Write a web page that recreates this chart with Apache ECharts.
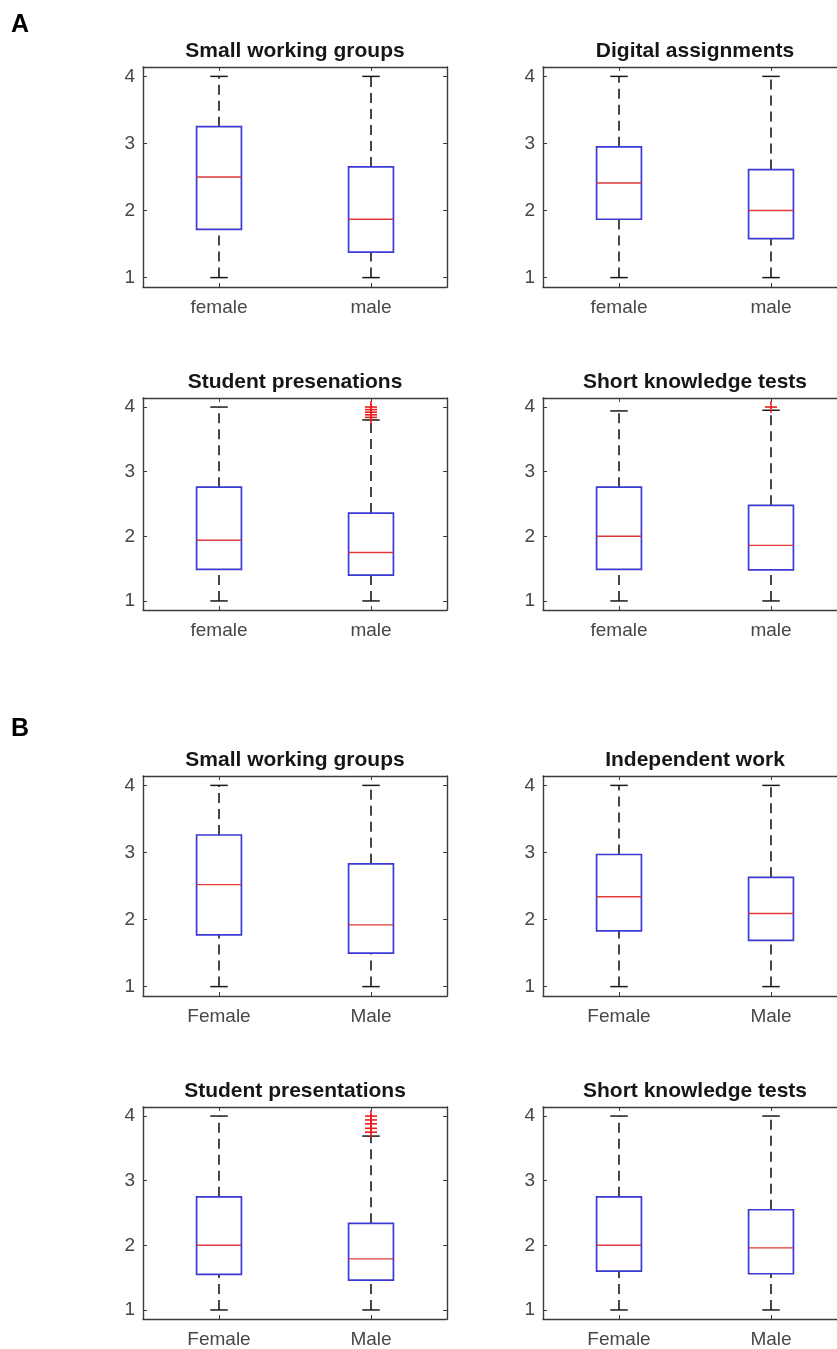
<!DOCTYPE html>
<html>
<head>
<meta charset="utf-8">
<script src="https://cdn.jsdelivr.net/npm/echarts@6/dist/echarts.min.js"></script>
<style>
html,body{margin:0;padding:0;background:#fff;overflow:hidden;width:837px;height:1349px;}
#chart{width:900px;height:1349px;}
</style>
</head>
<body>
<div id="chart"></div>
<script>
// ---------- data ----------
const groupLabelsA = ['female', 'male'];
const groupLabelsB = ['Female', 'Male'];
const panelTitles = ['Small working groups', 'Digital assignments', 'Student presenations', 'Short knowledge tests',
                     'Small working groups', 'Independent work', 'Student presentations', 'Short knowledge tests'];
const panelLetters = ['A', 'B'];
const yTickValues = [1, 2, 3, 4];
// [lower whisker, Q1, median, Q3, upper whisker] for [female, male]
const statsA1 = [[1, 1.72, 2.50, 3.25, 4], [1, 1.38, 1.87, 2.65, 4]];
const statsA2 = [[1, 1.87, 2.41, 2.95, 4], [1, 1.58, 2.00, 2.61, 4]];
const statsA3 = [[1, 1.49, 1.94, 2.76, 4], [1, 1.40, 1.75, 2.36, 3.80]];
const statsA4 = [[1, 1.49, 2.00, 2.76, 3.94], [1, 1.48, 1.86, 2.48, 3.95]];
const statsB1 = [[1, 1.77, 2.52, 3.26, 4], [1, 1.50, 1.92, 2.83, 4]];
const statsB2 = [[1, 1.83, 2.34, 2.97, 4], [1, 1.69, 2.09, 2.63, 4]];
const statsB3 = [[1, 1.55, 2.00, 2.75, 4], [1, 1.46, 1.79, 2.34, 3.69]];
const statsB4 = [[1, 1.60, 2.00, 2.75, 4], [1, 1.56, 1.96, 2.55, 4]];
// outliers: [group index, value]
const outliersA3 = [[1, 4.00], [1, 3.96], [1, 3.92], [1, 3.88], [1, 3.84]];
const outliersA4 = [[1, 4.00]];
const outliersB3 = [[1, 4.00], [1, 3.94], [1, 3.88], [1, 3.81], [1, 3.75]];

const panelStats = [statsA1, statsA2, statsA3, statsA4, statsB1, statsB2, statsB3, statsB4];
const panelOutliers = [[], [], outliersA3, outliersA4, [], [], outliersB3, []];

// ---------- layout ----------
const FONT = 'Liberation Sans, Arial, Helvetica, sans-serif';
const colLeft = [143, 543];
const rowTop = [67, 398, 776, 1107];
const rowHeight = [220, 212, 220, 212];
const plotWidth = 304;
const axisColor = '#3c3c3c';
const labelColor = '#474747';

const grids = [], xAxes = [], yAxes = [], series = [], graphics = [];

for (let p = 0; p < 8; p++) {
  const r = Math.floor(p / 2), c = p % 2;
  const left = colLeft[c], top = rowTop[r], h = rowHeight[r];
  const cats = p < 4 ? groupLabelsA : groupLabelsB;
  grids.push({left: left, top: top, width: plotWidth, height: h, containLabel: false});
  const xi = xAxes.length, yi = yAxes.length;
  xAxes.push({
    type: 'category', gridIndex: p, data: cats, position: 'bottom', boundaryGap: true,
    axisLine: {show: true, lineStyle: {color: axisColor, width: 1.4}},
    axisTick: {show: true, inside: true, alignWithLabel: true, length: 4, lineStyle: {color: axisColor}},
    axisLabel: {color: labelColor, fontSize: 19, fontFamily: FONT, margin: 11},
    splitLine: {show: false}
  });
  xAxes.push({
    type: 'category', gridIndex: p, data: cats, position: 'top', boundaryGap: true,
    axisLine: {show: true, lineStyle: {color: axisColor, width: 1.4}},
    axisTick: {show: true, inside: true, alignWithLabel: true, length: 4, lineStyle: {color: axisColor}},
    axisLabel: {show: false}, splitLine: {show: false}
  });
  yAxes.push({
    type: 'value', gridIndex: p, min: 0.86, max: 4.14, position: 'left',
    axisLine: {show: true, onZero: false, lineStyle: {color: axisColor, width: 1.4}},
    axisTick: {show: true, inside: true, length: 4, customValues: yTickValues, lineStyle: {color: axisColor}},
    axisLabel: {color: labelColor, fontSize: 19, fontFamily: FONT, margin: 8, customValues: yTickValues},
    splitLine: {show: false}
  });
  yAxes.push({
    type: 'value', gridIndex: p, min: 0.86, max: 4.14, position: 'right',
    axisLine: {show: true, onZero: false, lineStyle: {color: axisColor, width: 1.4}},
    axisTick: {show: true, inside: true, length: 4, customValues: yTickValues, lineStyle: {color: axisColor}},
    axisLabel: {show: false}, splitLine: {show: false}
  });

  const boxData = panelStats[p].map((s, i) => [i].concat(s));
  series.push({
    type: 'custom', xAxisIndex: xi, yAxisIndex: yi, data: boxData,
    encode: {x: 0, y: [1, 2, 3, 4, 5]}, silent: true,
    renderItem: function (params, api) {
      const x = api.value(0);
      const pMin = api.coord([x, api.value(1)]);
      const pQ1 = api.coord([x, api.value(2)]);
      const pMed = api.coord([x, api.value(3)]);
      const pQ3 = api.coord([x, api.value(4)]);
      const pMax = api.coord([x, api.value(5)]);
      const band = api.size([1, 0])[0];
      const bw = band * 0.295;
      const cw = band * 0.115;
      const cx = pMed[0];
      const dash = {stroke: '#1a1a1a', lineWidth: 1.6, lineDash: [10, 6]};
      const solid = {stroke: '#1a1a1a', lineWidth: 1.5};
      return {
        type: 'group',
        children: [
          {type: 'line', shape: {x1: cx, y1: pQ3[1], x2: cx, y2: pMax[1]}, style: dash},
          {type: 'line', shape: {x1: cx, y1: pMin[1], x2: cx, y2: pQ1[1]}, style: dash},
          {type: 'line', shape: {x1: cx - cw / 2, y1: pMax[1], x2: cx + cw / 2, y2: pMax[1]}, style: solid},
          {type: 'line', shape: {x1: cx - cw / 2, y1: pMin[1], x2: cx + cw / 2, y2: pMin[1]}, style: solid},
          {type: 'rect', shape: {x: cx - bw / 2, y: pQ3[1], width: bw, height: pQ1[1] - pQ3[1]},
           style: {fill: 'none', stroke: '#3a3ad4', lineWidth: 1.7}},
          {type: 'line', shape: {x1: cx - bw / 2, y1: pMed[1], x2: cx + bw / 2, y2: pMed[1]},
           style: {stroke: '#e03a3a', lineWidth: 1.4}}
        ]
      };
    }
  });
  if (panelOutliers[p].length) {
    series.push({
      type: 'custom', xAxisIndex: xi, yAxisIndex: yi, data: panelOutliers[p],
      encode: {x: 0, y: 1}, silent: true,
      renderItem: function (params, api) {
        const pt = api.coord([api.value(0), api.value(1)]);
        const s = 6;
        const st = {stroke: '#ee1c1c', lineWidth: 1.6};
        return {
          type: 'group',
          children: [
            {type: 'line', shape: {x1: pt[0] - s, y1: pt[1], x2: pt[0] + s, y2: pt[1]}, style: st},
            {type: 'line', shape: {x1: pt[0], y1: pt[1] - s, x2: pt[0], y2: pt[1] + s}, style: st}
          ]
        };
      }
    });
  }
  graphics.push({
    type: 'text', x: left + plotWidth / 2, y: top - 16,
    style: {text: panelTitles[p], font: 'bold 21px ' + FONT, fill: '#161616',
            textAlign: 'center', textVerticalAlign: 'middle'}
  });
}
// panel letters
graphics.push({type: 'text', x: 11, y: 13, style: {text: panelLetters[0], font: 'bold 25px ' + FONT, fill: '#000', textVerticalAlign: 'top'}});
graphics.push({type: 'text', x: 11, y: 717, style: {text: panelLetters[1], font: 'bold 25px ' + FONT, fill: '#000', textVerticalAlign: 'top'}});

const chart = echarts.init(document.getElementById('chart'), null, {renderer: 'canvas'});
chart.setOption({
  animation: false,
  backgroundColor: '#fff',
  grid: grids, xAxis: xAxes, yAxis: yAxes, series: series,
  graphic: graphics
});
</script>
</body>
</html>
